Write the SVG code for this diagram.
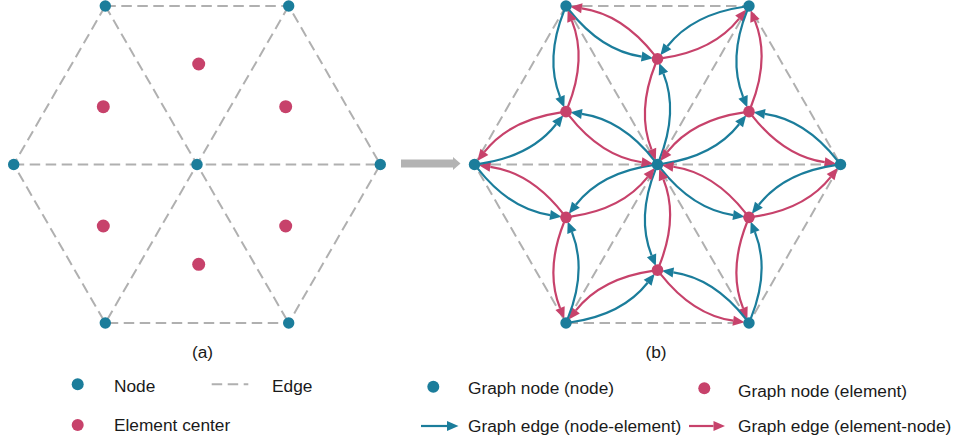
<svg xmlns="http://www.w3.org/2000/svg" xmlns:xlink="http://www.w3.org/1999/xlink" width="954" height="442" viewBox="0 0 954 442">
<style>
.edge{stroke:#b0b0b0;stroke-width:2;stroke-dasharray:10.5 5.5;fill:none}
.nd{fill:#1b7d9b}
.el{fill:#c7426b}
.b{stroke:#1b7d9b;stroke-width:2.2;fill:none;marker-end:url(#hb)}
.r{stroke:#c7426b;stroke-width:2.2;fill:none;marker-end:url(#hr)}
text{font-family:"Liberation Sans",Arial,sans-serif;font-size:17.3px;fill:#1a1a1a}
</style>
<defs>
<marker id="hb" markerUnits="userSpaceOnUse" markerWidth="12" markerHeight="11" refX="0" refY="5" orient="auto" overflow="visible"><path d="M0,0 L11.5,5 L0,10 z" fill="#1b7d9b"/></marker>
<marker id="hr" markerUnits="userSpaceOnUse" markerWidth="12" markerHeight="11" refX="0" refY="5" orient="auto" overflow="visible"><path d="M0,0 L11.5,5 L0,10 z" fill="#c7426b"/></marker>
<g id="sector">
<path class="b" d="M1.86,-4.64 Q21.13,-52.83 5.94,-90.80"/>
<path class="r" d="M-1.86,-101.02 Q-21.13,-52.83 -5.94,-14.86"/>
<path class="b" d="M-88.41,-154.55 Q-56.31,-113.77 -15.84,-107.94"/>
<path class="r" d="M-3.09,-109.59 Q-35.19,-150.37 -75.66,-156.20"/>
<path class="b" d="M86.55,-157.77 Q35.19,-150.37 9.90,-118.23"/>
<path class="r" d="M4.95,-106.37 Q56.31,-113.77 81.60,-145.91"/>
</g>
</defs>

<!-- (a) mesh edges -->
<g id="edges-a">
<path class="edge" d="M105.3,6 H288.7 L380.3,164.5 L288.7,323 H105.3 L13.7,164.5 Z"/>
<path class="edge" d="M13.7,164.5 H380.3 M105.3,6 L288.7,323 M288.7,6 L105.3,323"/>
</g>
<g id="nodes-a">
<g id="a-n0"><circle class="nd" cx="197" cy="164.5" r="5.7"/></g>
<g id="a-n1"><circle class="nd" cx="105.3" cy="6" r="5.7"/></g>
<g id="a-n2"><circle class="nd" cx="288.7" cy="6" r="5.7"/></g>
<g id="a-n3"><circle class="nd" cx="380.3" cy="164.5" r="5.7"/></g>
<g id="a-n4"><circle class="nd" cx="288.7" cy="323" r="5.7"/></g>
<g id="a-n5"><circle class="nd" cx="105.3" cy="323" r="5.7"/></g>
<g id="a-n6"><circle class="nd" cx="13.7" cy="164.5" r="5.7"/></g>
<g id="a-e0"><circle class="el" cx="198.7" cy="64" r="6.5"/></g>
<g id="a-e1"><circle class="el" cx="285.7" cy="106.7" r="6.5"/></g>
<g id="a-e2"><circle class="el" cx="285.7" cy="226" r="6.5"/></g>
<g id="a-e3"><circle class="el" cx="198.7" cy="264.3" r="6.5"/></g>
<g id="a-e4"><circle class="el" cx="103.3" cy="226" r="6.5"/></g>
<g id="a-e5"><circle class="el" cx="103.3" cy="106.7" r="6.5"/></g>
</g>

<!-- transition arrow -->
<g id="transition">
<line x1="401" y1="163.5" x2="454" y2="163.5" stroke="#b3b3b3" stroke-width="8"/>
<polygon points="453,157 460.5,163.5 453,170" fill="#b3b3b3"/>
</g>

<!-- (b) mesh edges -->
<g id="edges-b">
<path class="edge" d="M566,6 H749 L840.5,164.5 L749,323 H566 L474.5,164.5 Z"/>
<path class="edge" d="M474.5,164.5 H840.5 M566,6 L749,323 M749,6 L566,323"/>
</g>

<!-- (b) graph edges -->
<g id="connectors" transform="translate(657.5,164.5)">
<use xlink:href="#sector"/>
<use xlink:href="#sector" transform="rotate(60)"/>
<use xlink:href="#sector" transform="rotate(120)"/>
<use xlink:href="#sector" transform="rotate(180)"/>
<use xlink:href="#sector" transform="rotate(240)"/>
<use xlink:href="#sector" transform="rotate(300)"/>
</g>

<g id="nodes-b">
<g id="b-n0"><circle class="nd" cx="657.5" cy="164.5" r="5.7"/></g>
<g id="b-n1"><circle class="nd" cx="566" cy="6" r="5.7"/></g>
<g id="b-n2"><circle class="nd" cx="749" cy="6" r="5.7"/></g>
<g id="b-n3"><circle class="nd" cx="840.5" cy="164.5" r="5.7"/></g>
<g id="b-n4"><circle class="nd" cx="749" cy="323" r="5.7"/></g>
<g id="b-n5"><circle class="nd" cx="566" cy="323" r="5.7"/></g>
<g id="b-n6"><circle class="nd" cx="474.5" cy="164.5" r="5.7"/></g>
<g id="b-e0"><circle class="el" cx="657.5" cy="58.84" r="5.8"/></g>
<g id="b-e1"><circle class="el" cx="749" cy="111.67" r="5.8"/></g>
<g id="b-e2"><circle class="el" cx="749" cy="217.33" r="5.8"/></g>
<g id="b-e3"><circle class="el" cx="657.5" cy="270.16" r="5.8"/></g>
<g id="b-e4"><circle class="el" cx="566" cy="217.33" r="5.8"/></g>
<g id="b-e5"><circle class="el" cx="566" cy="111.67" r="5.8"/></g>
</g>

<!-- captions -->
<text x="202.5" y="358" text-anchor="middle">(a)</text>
<text x="656" y="358" text-anchor="middle">(b)</text>

<!-- legend (a) -->
<g id="legend-a">
<circle class="nd" cx="77.7" cy="384.3" r="6"/>
<text x="114" y="392">Node</text>
<line class="edge" x1="211.7" y1="384.3" x2="248.3" y2="384.3"/>
<text x="272" y="392">Edge</text>
<circle class="el" cx="77.7" cy="425" r="6"/>
<text x="114" y="431">Element center</text>
</g>

<!-- legend (b) -->
<g id="legend-b">
<circle class="nd" cx="433.3" cy="386.7" r="6"/>
<text x="468" y="393.5">Graph node (node)</text>
<circle class="el" cx="704.3" cy="388.3" r="6"/>
<text x="738" y="396.5">Graph node (element)</text>
<path class="b" d="M421,426 H447"/>
<text x="468" y="432">Graph edge (node-element)</text>
<path class="r" d="M689,426 H713.5"/>
<text x="738" y="432">Graph edge (element-node)</text>
</g>
</svg>
